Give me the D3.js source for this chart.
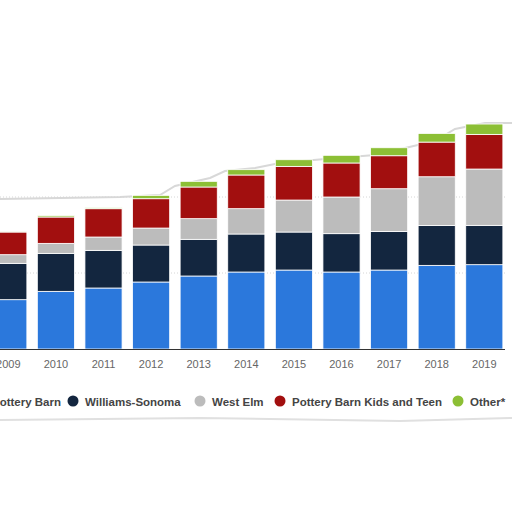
<!DOCTYPE html>
<html><head><meta charset="utf-8">
<script src="https://cdn.jsdelivr.net/npm/d3@7"></script>
<style>body{margin:0;background:#fff;} svg{display:block;}</style>
</head><body>
<script>
var width = 512, height = 512;

var years = ["2009","2010","2011","2012","2013","2014","2015","2016","2017","2018","2019"];
var potteryBarn = [1298,1517,1605,1763,1921,2026,2078,2026,2078,2201,2219];
var williamsSonoma = [956,1000,991,973,965,1000,1000,1009,1017,1052,1035];
var westElm = [228,263,351,447,544,667,842,965,1123,1280,1482];
var pbKidsTeen = [596,693,745,772,833,886,886,895,868,912,912];
var other = [5,35,26,88,149,140,175,202,210,228,272];

var seriesNames = ["Pottery Barn","Williams-Sonoma","West Elm","Pottery Barn Kids and Teen","Other*"];
var seriesValues = [potteryBarn, williamsSonoma, westElm, pbKidsTeen, other];
var colors = ["#2b78dc","#13263f","#bcbcbc","#a20f0f","#8cbf35"];

var svg = d3.select("body").append("svg").attr("width", width).attr("height", height);

// torn paper edge
var tear = [[0,199],[120,197],[160,195],[175,186],[210,178],[225,171],[255,168],[280,163],[325,159],[375,155],[405,148],[435,141],[455,129],[485,123],[512,123]];
svg.append("path").attr("d", d3.line()(tear)).attr("fill","none").attr("stroke","#d8d8d8").attr("stroke-width",2);
svg.append("path").attr("d", d3.line()([[0,420],[200,418],[400,421],[512,418]])).attr("fill","none").attr("stroke","#e0e0e0").attr("stroke-width",2);

var x = d3.scaleBand().domain(years).range([-15.5, 508.1]).paddingInner(0.22).paddingOuter(0.11);
var y = d3.scaleLinear().domain([0, 6000]).range([349, 121]);

// gridlines
svg.selectAll(".grid").data([2000, 4000]).enter().append("line")
  .attr("x1", 0).attr("x2", 505).attr("y1", d => y(d)).attr("y2", d => y(d))
  .attr("stroke", "#d6d6d6").attr("stroke-dasharray", "1,2");

var table = years.map(function(yr, i) {
  var row = {year: yr};
  seriesNames.forEach(function(n, k) { row[n] = seriesValues[k][i]; });
  return row;
});
var stacked = d3.stack().keys(seriesNames)(table);

svg.selectAll(".series").data(stacked).enter().append("g")
  .attr("fill", (d, i) => colors[i])
  .selectAll("rect").data(d => d).enter().append("rect")
  .attr("x", d => x(d.data.year))
  .attr("width", x.bandwidth())
  .attr("y", d => y(d[1]))
  .attr("height", d => y(d[0]) - y(d[1]))
  .attr("stroke", "#fff").attr("stroke-width", 0.8);

// x axis
svg.append("line").attr("x1", 0).attr("x2", 505).attr("y1", 349.5).attr("y2", 349.5)
  .attr("stroke", "#333").attr("stroke-width", 1.2);
svg.selectAll(".tick").data(years).enter().append("text")
  .attr("x", d => x(d) + x.bandwidth() / 2).attr("y", 368)
  .attr("text-anchor", "middle").attr("font-family", "Arial, Liberation Sans, sans-serif")
  .attr("font-size", 11).attr("fill", "#666").text(d => d);

// legend
var legendX = [-20, 73, 200, 280, 458];
var lg = svg.selectAll(".leg").data(seriesNames).enter().append("g")
  .attr("transform", (d, i) => "translate(" + legendX[i] + ",401)");
lg.append("circle").attr("r", 5.5).attr("fill", (d, i) => colors[i]);
lg.append("text").attr("x", 12).attr("y", 4.5)
  .attr("font-family", "Arial, Liberation Sans, sans-serif").attr("font-size", 11.5)
  .attr("font-weight", "bold").attr("fill", "#444").text(d => d);
</script>
</body></html>
